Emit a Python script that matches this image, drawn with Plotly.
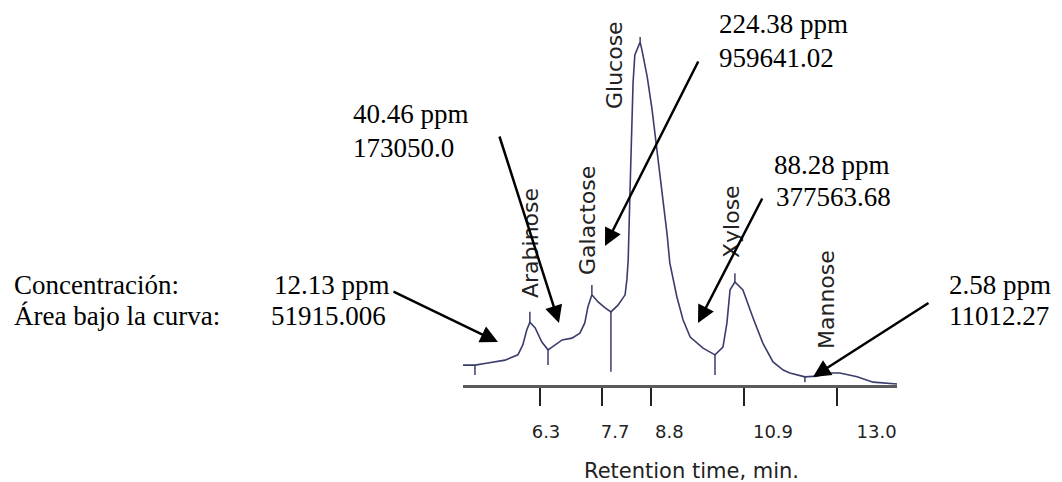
import numpy as np
import plotly.graph_objects as go

# ---------------- data ----------------
time_min = [4.56, 4.83, 5.12, 5.51, 5.80, 5.91, 6.00, 6.07, 6.19, 6.34,
            6.48, 6.64, 6.80, 7.02, 7.20, 7.31, 7.38, 7.47, 7.61, 7.77,
            7.90, 8.06, 8.22, 8.26, 8.29, 8.33, 8.35, 8.38, 8.40, 8.44,
            8.51, 8.56, 8.60, 8.72, 8.83, 8.94, 9.05, 9.17, 9.23, 9.39,
            9.53, 9.69, 9.98, 10.25, 10.43, 10.52, 10.59, 10.70, 10.88, 11.04,
            11.11, 11.33, 11.56, 11.79, 11.94, 12.28, 12.55, 12.78, 13.07, 13.46,
            13.82, 14.36]
signal = [5.6, 5.6, 6.2, 7.0, 8.5, 11.3, 15.5, 17.7, 16.1, 12.1,
          9.9, 11.3, 12.7, 13.2, 14.6, 17.5, 22.0, 25.4, 23.4, 21.7,
          20.6, 22.5, 25.4, 29.6, 35.2, 54.1, 63.4, 73.8, 85.1, 93.0,
          95.2, 96.6, 94.4, 86.8, 77.5, 66.2, 54.9, 42.3, 34.4, 24.8,
          18.3, 13.5, 10.4, 8.5, 10.7, 17.5, 26.8, 29.0, 26.8, 21.1,
          18.9, 11.8, 6.5, 4.2, 3.4, 2.3, 2.5, 3.4, 3.4, 2.3,
          0.8, 0.3]

# integration drop lines (valleys) and peak apex markers
drop_time = [4.83, 6.48, 7.90, 10.25, 12.28]
drop_low = [2.8, 5.6, 3.7, 2.8, 0.8]
apex_time = [6.07, 7.47, 8.56, 10.70]
apex_high = [20.6, 28.2, 98.0, 31.5]

tick_vals = [6.3, 7.7, 8.8, 10.9, 13.0]
tick_labels = ["6.3", "7.7", "8.8", "10.9", "13.0"]

compounds = ["Arabinose", "Galactose", "Glucose", "Xylose", "Mannose"]
concentration = ["12.13 ppm", "40.46 ppm", "224.38 ppm", "88.28 ppm", "2.58 ppm"]
area = ["51915.006", "173050.0", "959641.02", "377563.68", "11012.27"]

# ---------------- layout geometry ----------------
W, H = 1062, 482
ML, MR, MT, MB = 463, 165, 30, 97
PW, PH = W - ML - MR, H - MT - MB


def paper(px, py):
    return (px - ML) / PW, (H - MB - py) / PH


LINE_COLOR = "#3a3d6b"

fig = go.Figure()

fig.add_trace(go.Scatter(x=time_min, y=signal, mode="lines",
                         line=dict(color=LINE_COLOR, width=1.6),
                         showlegend=False, hoverinfo="skip"))

seg_x, seg_y = [], []
for t, lo in zip(drop_time, drop_low):
    top = float(np.interp(t, time_min, signal))
    seg_x += [t, t, None]
    seg_y += [top, lo, None]
for t, hi in zip(apex_time, apex_high):
    top = float(np.interp(t, time_min, signal))
    seg_x += [t, t, None]
    seg_y += [top, hi, None]
fig.add_trace(go.Scatter(x=seg_x, y=seg_y, mode="lines",
                         line=dict(color=LINE_COLOR, width=1.5),
                         showlegend=False, hoverinfo="skip"))

# placeholder trace so the label axis is rendered
fig.add_trace(go.Scatter(x=[None], y=[None], xaxis="x2", showlegend=False,
                         hoverinfo="skip"))

annotations = []

# compound names (rotated)
name_pos = [(530, 243), (588, 221), (614, 65), (732, 222), (826, 300)]
for name, (px, py) in zip(compounds, name_pos):
    x, y = paper(px, py)
    annotations.append(dict(x=x, y=y, xref="paper", yref="paper", text=name,
                            textangle=-90, showarrow=False, xanchor="center",
                            yanchor="middle",
                            font=dict(family="DejaVu Sans", size=22, color="#222")))

SERIF = dict(family="Liberation Serif, Times New Roman, serif", size=27, color="#000")


def text_at(txt, px, py):
    x, y = paper(px, py)
    annotations.append(dict(x=x, y=y, xref="paper", yref="paper", text=txt,
                            showarrow=False, xanchor="left", yanchor="middle",
                            font=SERIF))


text_at("Concentración:", 12, 285)
text_at("Área bajo la curva:", 12, 316)
text_pos = [((272, 285), (269, 316)),
            ((351, 114), (351, 148)),
            ((717, 24), (717, 58)),
            ((772, 165), (774, 197)),
            ((947, 285), (947, 316))]
for c, a, (p1, p2) in zip(concentration, area, text_pos):
    text_at(c, *p1)
    text_at(a, *p2)

# arrows: (tail px, tail py, tip px, tip py)
arrows = [(392, 291, 498, 342),
          (499, 135, 559, 323),
          (699, 60, 605, 246),
          (763, 197, 698, 323),
          (930, 302, 813, 377)]
for tx, ty, hx, hy in arrows:
    x, y = paper(hx, hy)
    annotations.append(dict(x=x, y=y, xref="paper", yref="paper", text="",
                            showarrow=True, arrowhead=2, arrowsize=1.4,
                            arrowwidth=2.5, arrowcolor="#000",
                            ax=tx - hx, ay=ty - hy))

# axis title
x, y = paper(691, 471)
annotations.append(dict(x=x, y=y, xref="paper", yref="paper",
                        text="Retention time, min.", showarrow=False,
                        xanchor="center", yanchor="middle",
                        font=dict(family="DejaVu Sans", size=21, color="#222")))

fig.update_layout(
    width=W, height=H,
    margin=dict(l=ML, r=MR, t=MT, b=MB, pad=0),
    paper_bgcolor="white", plot_bgcolor="white",
    xaxis=dict(range=[4.56, 14.36], tickvals=tick_vals, ticks="outside",
               ticklen=18, tickwidth=1.5, tickcolor="#222",
               showticklabels=False, showline=True, linecolor="#5a5a5a",
               linewidth=3, showgrid=False, zeroline=False),
    xaxis2=dict(overlaying="x", side="bottom", anchor="y",
                range=[4.618, 13.414], tickvals=tick_vals,
                ticktext=tick_labels, ticks="", showline=False,
                showgrid=False, zeroline=False, ticklabelstandoff=34,
                tickfont=dict(family="DejaVu Sans", size=18, color="#222")),
    yaxis=dict(range=[0, 100], visible=False),
    annotations=annotations,
    showlegend=False,
)

fig.write_html("out.html")
